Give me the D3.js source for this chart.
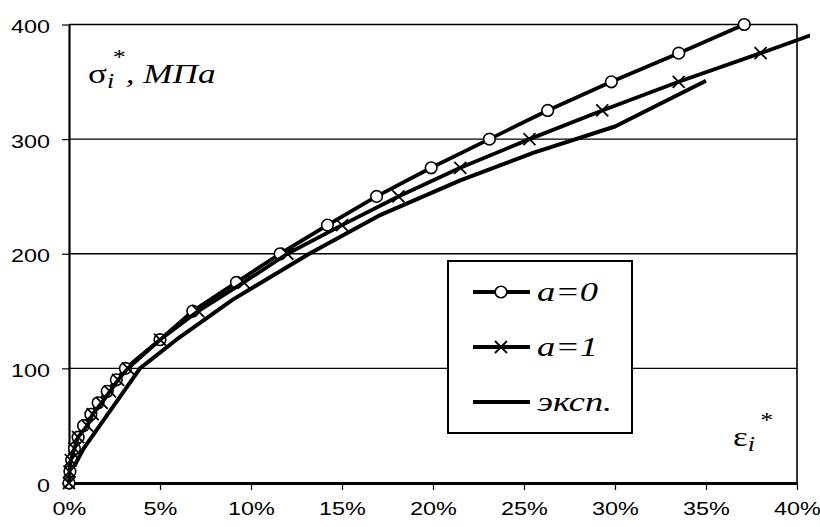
<!DOCTYPE html>
<html>
<head>
<meta charset="utf-8">
<script src="https://cdn.jsdelivr.net/npm/d3@7"></script>
<style>
  body { margin: 0; background: #fff; }
  svg { display: block; }
  .serif { font-family: "Times New Roman", "Liberation Serif", "DejaVu Serif", "Noto Serif", serif; }
</style>
</head>
<body>
<div id="chart"></div>
<script>
// stress levels (MPa) shared by both model series
const stress = [0, 10, 20, 30, 40, 50, 60, 70, 80, 90, 100,
  125, 150, 175, 200, 225, 250, 275, 300, 325, 350, 375, 400];
// strain, % for a=0 and a=1
const strainA0 = [0, 0.05, 0.15, 0.3, 0.5, 0.8, 1.2, 1.6, 2.1, 2.6, 3.1,
  5.0, 6.8, 9.2, 11.6, 14.2, 16.9, 19.9, 23.1, 26.3, 29.8, 33.5, 37.1];
const strainA1 = [0, 0.03, 0.1, 0.3, 0.5, 1.0, 1.3, 1.8, 2.25, 2.7, 3.24,
  5.0, 7.1, 9.6, 12.0, 15.0, 18.1, 21.5, 25.3, 29.3, 33.5, 38.0, 42.4];
// experiment
const expStrain = [0.3, 0.8, 3.9, 5.9, 9.0, 13.2, 17.0, 21.5, 25.5, 30.0, 35.0];
const expStress = [15, 30, 100, 125, 160, 200, 233, 264, 288, 311, 351];

const xTicks = [0, 5, 10, 15, 20, 25, 30, 35, 40];
const yTicks = [0, 100, 200, 300, 400];

const width = 820, height = 527;
const mLeft = 69, mRight = 797, mTop = 24.5, mBottom = 483;
const stretch = 1.3; // the original picture is wider than tall

const sans = "'Liberation Sans', Arial, sans-serif";

const svg = d3.select("#chart").append("svg")
  .attr("width", width)
  .attr("height", height);

const x = d3.scaleLinear().domain([0, 40]).range([mLeft, mRight]);
const y = d3.scaleLinear().domain([0, 400]).range([mBottom, mTop]);

// clip at chart area edge
svg.append("clipPath").attr("id", "clip")
  .append("rect").attr("x", 0).attr("y", 0).attr("width", 810).attr("height", height);

// gridlines
svg.append("g")
  .selectAll("line")
  .data(yTicks.filter(d => d > 0))
  .join("line")
  .attr("x1", mLeft).attr("x2", mRight)
  .attr("y1", d => y(d)).attr("y2", d => y(d))
  .attr("stroke", "#000")
  .attr("stroke-width", 1.4);

// right border
svg.append("line")
  .attr("x1", mRight).attr("x2", mRight)
  .attr("y1", mTop).attr("y2", mBottom)
  .attr("stroke", "#000").attr("stroke-width", 1.6);

// axes
const xAxis = svg.append("g")
  .attr("transform", `translate(0,${mBottom})`)
  .call(d3.axisBottom(x).tickValues(xTicks).tickSize(7).tickSizeOuter(0)
    .tickFormat(d => d + "%"));
xAxis.select(".domain").attr("stroke-width", 3);
xAxis.selectAll(".tick line").attr("stroke-width", 1.2);
xAxis.selectAll(".tick text")
  .attr("y", 32).attr("dy", 0)
  .attr("transform", `scale(${stretch},1)`)
  .style("font-family", sans)
  .style("font-size", "18px")
  .attr("fill", "#000");

const yAxis = svg.append("g")
  .attr("transform", `translate(${mLeft},0)`)
  .call(d3.axisLeft(y).tickValues(yTicks).tickSize(7).tickSizeOuter(0));
yAxis.select(".domain").attr("stroke-width", 2.2);
yAxis.selectAll(".tick line").attr("stroke-width", 1.2);
yAxis.selectAll(".tick text")
  .attr("x", -19 / stretch)
  .attr("dy", "0.45em")
  .attr("transform", `scale(${stretch},1)`)
  .style("font-family", sans)
  .style("font-size", "18px")
  .attr("fill", "#000");

const plot = svg.append("g").attr("clip-path", "url(#clip)");

const line = d3.line().x(d => x(d[0])).y(d => y(d[1]));

const a0 = strainA0.map((s, i) => [s, stress[i]]);
const a1 = strainA1.map((s, i) => [s, stress[i]]);
const ex = expStrain.map((s, i) => [s, expStress[i]]);

function crossPath(size) {
  const h = size / 2;
  return `M${-h},${-h}L${h},${h}M${-h},${h}L${h},${-h}`;
}

// a=0
plot.append("path")
  .attr("d", line(a0))
  .attr("fill", "none").attr("stroke", "#000").attr("stroke-width", 3.8)
  .attr("stroke-linejoin", "round");
plot.append("g")
  .selectAll("circle")
  .data(a0)
  .join("circle")
  .attr("cx", d => x(d[0])).attr("cy", d => y(d[1]))
  .attr("r", 5.8)
  .attr("fill", "#fff").attr("stroke", "#000").attr("stroke-width", 1.6);

// a=1
plot.append("path")
  .attr("d", line(a1))
  .attr("fill", "none").attr("stroke", "#000").attr("stroke-width", 3.8)
  .attr("stroke-linejoin", "round");
plot.append("g")
  .selectAll("path")
  .data(a1)
  .join("path")
  .attr("transform", d => `translate(${x(d[0])},${y(d[1])})`)
  .attr("d", crossPath(12))
  .attr("fill", "none").attr("stroke", "#000").attr("stroke-width", 1.8);

// experiment
plot.append("path")
  .attr("d", line(ex))
  .attr("fill", "none").attr("stroke", "#000").attr("stroke-width", 4)
  .attr("stroke-linejoin", "round");

// stretched serif text placed at (tx, ty)
function serifText(tx, ty, size, sx) {
  return svg.append("text")
    .attr("class", "serif")
    .attr("transform", `translate(${tx},${ty}) scale(${sx},1)`)
    .style("font-size", size + "px")
    .attr("fill", "#000");
}

// axis titles
const yTitle = serifText(88, 83, 27, 1.3);
yTitle.append("tspan").text("σ");
yTitle.append("tspan").style("font-style", "italic").style("font-size", "20px").attr("dy", 5).text("i");
yTitle.append("tspan").style("font-size", "20px").attr("dy", -24).attr("dx", -1).text("*");
yTitle.append("tspan").style("font-style", "italic").attr("dy", 19).text(", МПа");

const xTitle = serifText(733, 446, 27, 1.3);
xTitle.append("tspan").text("ε");
xTitle.append("tspan").style("font-style", "italic").style("font-size", "20px").attr("dy", 5).text("i");
xTitle.append("tspan").style("font-size", "20px").attr("dy", -24).attr("dx", 4).text("*");

// legend
const legend = svg.append("g");
legend.append("rect")
  .attr("x", 448).attr("y", 261).attr("width", 184).attr("height", 172)
  .attr("fill", "#fff").attr("stroke", "#000").attr("stroke-width", 2);

const legendItems = [
  { label: "a=0", marker: "circle", cy: 292 },
  { label: "a=1", marker: "cross", cy: 347 },
  { label: "эксп.", marker: "none", cy: 402 }
];

legendItems.forEach(item => {
  legend.append("line")
    .attr("x1", 473).attr("x2", 530)
    .attr("y1", item.cy).attr("y2", item.cy)
    .attr("stroke", "#000").attr("stroke-width", 3.8);
  if (item.marker === "circle") {
    legend.append("circle")
      .attr("cx", 501).attr("cy", item.cy).attr("r", 5.8)
      .attr("fill", "#fff").attr("stroke", "#000").attr("stroke-width", 1.6);
  } else if (item.marker === "cross") {
    legend.append("path")
      .attr("transform", `translate(501,${item.cy})`)
      .attr("d", crossPath(12))
      .attr("fill", "none").attr("stroke", "#000").attr("stroke-width", 1.8);
  }
  serifText(537, item.cy + 9, 27, 1.35)
    .style("font-style", "italic")
    .text(item.label);
});
</script>
</body>
</html>
